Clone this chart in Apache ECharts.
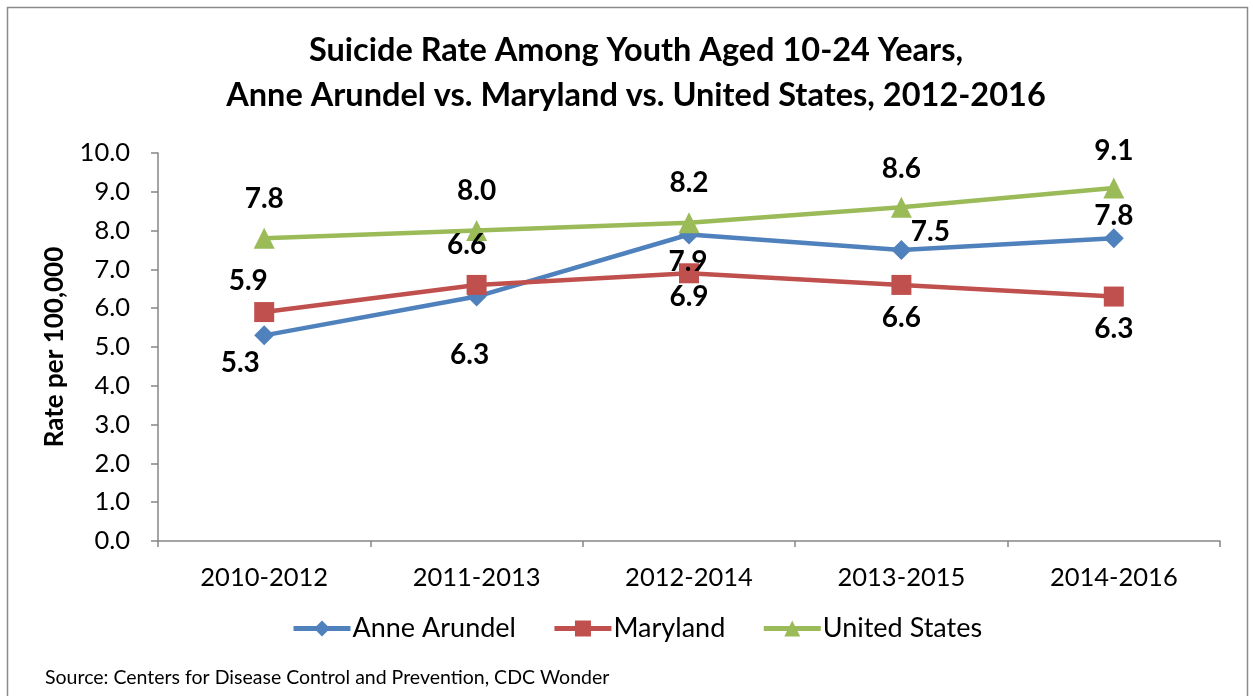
<!DOCTYPE html>
<html>
<head>
<meta charset="utf-8">
<script src="https://cdn.jsdelivr.net/npm/echarts@6/dist/echarts.min.js"></script>
<style>
  html, body { margin: 0; padding: 0; background: #fff; }
  #main { width: 1253px; height: 696px; }
</style>
</head>
<body>
<div id="main"></div>
<script>
const periods = ['2010-2012', '2011-2013', '2012-2014', '2013-2015', '2014-2016'];
const anneArundel = [5.3, 6.3, 7.9, 7.5, 7.8];
const maryland = [5.9, 6.6, 6.9, 6.6, 6.3];
const unitedStates = [7.8, 8.0, 8.2, 8.6, 9.1];

const FONT = 'Lato, "Open Sans", sans-serif';

// where each value label sits relative to its marker (x, y px)
const labelShift = {
    anne: [[-24, 28], [-7, 58], [-1, 27], [29, -18], [0, -22]],
    md: [[-16, -31], [-10, -40], [0, 24], [0, 33], [0, 32]],
    us: [[0, -39], [0, -40], [0, -40], [0, -38], [0, -37]]
};

function withLabels(values, shifts) {
    return values.map((v, i) => ({
        value: v,
        label: { offset: shifts[i] }
    }));
}

function lineSeries(name, values, shifts, color, symbol, size) {
    return {
        name: name,
        type: 'line',
        data: withLabels(values, shifts),
        symbol: symbol,
        symbolSize: size,
        itemStyle: { color: color },
        lineStyle: { color: color, width: 4.5 },
        label: {
            show: true,
            position: 'inside',
            color: '#000',
            fontFamily: FONT,
            fontWeight: 'bold',
            fontSize: 28,
            formatter: p => p.value.toFixed(1)
        },
        emphasis: { disabled: true },
        animation: false
    };
}

let myChart = echarts.init(document.getElementById('main'));

let option = {
    backgroundColor: '#fff',
    graphic: [{
        type: 'rect',
        shape: { x: 7.5, y: 7.5, width: 1240, height: 700 },
        style: { fill: 'none', stroke: '#8a8a8a', lineWidth: 1.5 },
        silent: true
    }, {
        type: 'text',
        left: 45,
        top: 668,
        style: {
            text: 'Source: Centers for Disease Control and Prevention, CDC Wonder',
            font: '19.5px ' + FONT,
            fill: '#000'
        }
    }],
    title: {
        text: 'Suicide Rate Among Youth Aged 10-24 Years,\nAnne Arundel vs. Maryland vs. United States, 2012-2016',
        left: 631,
        textAlign: 'center',
        top: 23,
        textStyle: {
            fontFamily: FONT,
            fontWeight: 'bold',
            fontSize: 32.5,
            lineHeight: 45,
            color: '#000'
        }
    },
    legend: {
        top: 610,
        left: 286,
        itemWidth: 57,
        itemHeight: 20,
        itemGap: 36,
        lineStyle: { width: 5 },
        textStyle: { fontFamily: FONT, fontSize: 27, color: '#000', padding: [0, 0, 0, -3] },
        data: ['Anne Arundel', 'Maryland', 'United States']
    },
    grid: {
        left: 158,
        right: 33,
        top: 153,
        bottom: 155
    },
    xAxis: {
        type: 'category',
        data: periods,
        boundaryGap: true,
        axisLine: { lineStyle: { color: '#868686', width: 1.5 } },
        axisTick: { show: true, length: 6, lineStyle: { color: '#868686', width: 1.5 } },
        axisLabel: { color: '#000', fontFamily: FONT, fontSize: 25.5, margin: 24 }
    },
    yAxis: {
        type: 'value',
        min: 0,
        max: 10,
        interval: 1,
        name: 'Rate per 100,000',
        nameLocation: 'middle',
        nameGap: 90,
        nameTextStyle: { color: '#000', fontFamily: FONT, fontWeight: 'bold', fontSize: 26 },
        splitLine: { show: false },
        axisLine: { show: true, lineStyle: { color: '#868686', width: 1.5 } },
        axisTick: { show: true, length: 7, lineStyle: { color: '#868686', width: 1.5 } },
        axisLabel: {
            color: '#000',
            fontFamily: FONT,
            fontSize: 25.5,
            margin: 28,
            formatter: v => v.toFixed(1)
        }
    },
    series: [
        lineSeries('Anne Arundel', anneArundel, labelShift.anne, '#4F81BD', 'diamond', 20),
        lineSeries('Maryland', maryland, labelShift.md, '#C0504D', 'rect', 20),
        lineSeries('United States', unitedStates, labelShift.us, '#9BBB59', 'triangle', 21)
    ]
};

myChart.setOption(option);
</script>
</body>
</html>
